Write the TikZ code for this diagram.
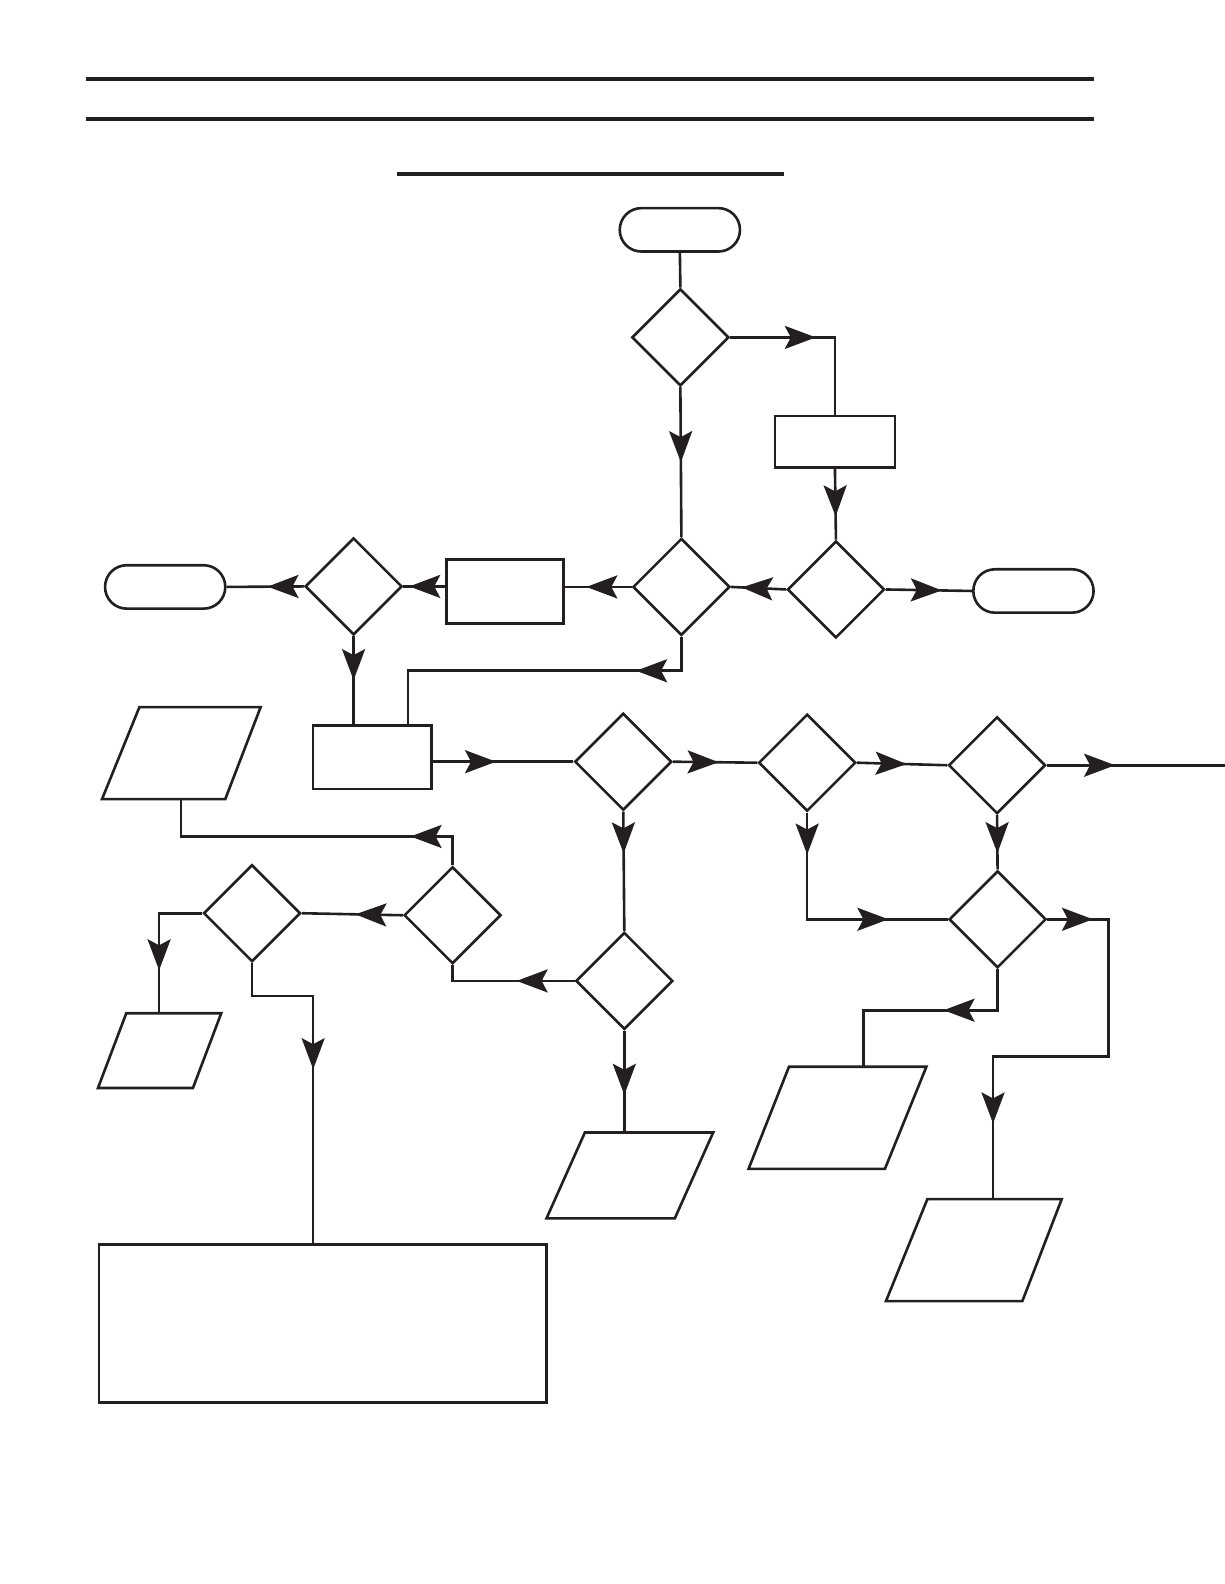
\documentclass[tikz,border=0pt]{standalone}
\usetikzlibrary{shapes.geometric,arrows.meta,decorations.markings}
\definecolor{ink}{RGB}{35,31,32}
\begin{document}
\begin{tikzpicture}[x=0.505pt,y=-0.505pt,
  color=ink, line width=1.3pt,
  >={Stealth[length=15.5pt,width=11.5pt,inset=3pt]},
  dia/.style={diamond,draw=ink,line width=1.3pt,minimum width=48.5pt,minimum height=48.5pt,inner sep=0pt},
  term/.style={rectangle,draw=ink,line width=1.3pt,rounded corners=10.8pt,minimum width=60.1pt,minimum height=21.7pt,inner sep=0pt},
  boxa/.style={rectangle,draw=ink,line width=1.3pt,inner sep=0pt},
  arrowat/.style={postaction={decorate},decoration={markings,mark=at position #1 with {\arrow[ink]{>}}}},
  arrowstwo/.style 2 args={postaction={decorate},decoration={markings,mark=at position #1 with {\arrow[ink]{>}},mark=at position #2 with {\arrow[ink]{>}}}},
  rule/.style={draw=ink,line width=2pt}]
\useasboundingbox (0,0) rectangle (1212,1568);
% header rules
\draw[rule] (85,78) -- (1083,78);
\draw[rule] (85,118) -- (1083,118);
\draw[rule] (393,172) -- (776,172);
% nodes
\node[term] (T1) at (673,227.5) {};
\node[dia] (D1) at (673.5,334) {};
\node[boxa,minimum width=60.1pt,minimum height=25.8pt] (B1) at (826.5,437.5) {};
\node[dia] (D3) at (827.5,583.5) {};
\node[term] (T3) at (1023,585) {};
\node[dia] (D2) at (674.5,581) {};
\node[boxa,minimum width=58.6pt,minimum height=31.8pt] (B2) at (500,585.5) {};
\node[dia] (D4) at (350,580.5) {};
\node[term] (T2) at (163.5,581) {};
\node[boxa,minimum width=59.1pt,minimum height=31.8pt] (B3) at (368.5,749.5) {};
\node[dia] (D5) at (617,754) {};
\node[dia] (D6) at (799,755) {};
\node[dia] (D7) at (987,757.5) {};
\node[dia] (D8) at (987.5,910) {};
\node[dia] (D9) at (618,971) {};
\node[dia] (D10) at (448,906) {};
\node[dia] (D11) at (249.5,904) {};
\node[boxa,minimum width=223.7pt,minimum height=78.8pt] (Big) at (319.5,1310) {};
% parallelograms
\draw (101,791) -- (223,791) -- (258,700) -- (138,700) -- cycle;
\draw (97,1077) -- (191,1077) -- (219,1003) -- (125,1003) -- cycle;
\draw (541,1206) -- (668,1206) -- (706,1121) -- (579,1121) -- cycle;
\draw (741,1157) -- (876,1157) -- (917,1056) -- (781,1056) -- cycle;
\draw (877,1288) -- (1012,1288) -- (1051,1187) -- (918,1187) -- cycle;
\coordinate (P1bot) at (179,791);
\coordinate (P2top) at (157.5,1003);
\coordinate (P3top) at (619,1121);
\coordinate (P4top) at (854.5,1056);
\coordinate (P5top) at (983,1187);
\coordinate (exitR) at (1214,757.5);
\coordinate (c10) at (404,664);
\coordinate (c17a) at (1097,1046);
\coordinate (c17b) at (983,1046);
\coordinate (c18) at (854.5,1000);
\coordinate (c22) at (179,828);
\coordinate (c25) at (310,986);
% connectors
\draw (T1.south) -- (D1.north);
\draw[arrowat=0.47] (D1.east) -| (B1.north);
\draw[arrowat=0.50] (D1.south) -- (D2.north);
\draw[arrowat=0.67] (B1.south) -- (D3.north);
\draw[arrowat=0.65] (D3.east) -- (T3.west);
\draw[arrowat=0.81] (D3.west) -- (D2.east);
\draw[arrowat=0.68] (D2.west) -- (D2.west -| B2.east);
\draw[arrowat=0.86] (D4.east -| B2.west) -- (D4.east);
\draw[arrowat=0.47] (D4.west) -- (T2.east);
\draw[arrowat=0.50] (D4.south) -- (D4.south |- B3.north);
\draw[arrowat=0.22] (D2.south) |- (c10) -- (c10 |- B3.north);
\draw[arrowat=0.45] (D5.west -| B3.east) -- (D5.west);
\draw[arrowat=0.54] (D5.east) -- (D6.west);
\draw[arrowat=0.55] (D6.east) -- (D7.west);
\draw[arrowat=0.38] (D7.east) -- (exitR);
\draw[arrowat=0.70] (D7.south) -- (D8.north);
\draw[arrowstwo={0.17}{0.76}] (D6.south) |- (D8.west);
\draw[arrowstwo={0.10}{0.834}] (D8.east) -| (c17a) -- (c17b) -- (P5top);
\draw[arrowat=0.41] (D8.south) |- (c18) -- (P4top);
\draw[arrowat=0.35] (D5.south) -- (D9.north);
\draw[arrowat=0.63] (D9.south) -- (D9.south |- P3top);
\draw[arrowat=0.42] (D9.west) -| (D10.south);
\draw[arrowat=0.21] (D10.north) |- (c22) -- (P1bot);
\draw[arrowat=0.47] (D10.west) -- (D11.east);
\draw[arrowat=0.70] (D11.west) -| (P2top);
\draw[arrowat=0.49] (D11.south) |- (c25) -- (c25 |- Big.north);
\end{tikzpicture}
\end{document}
